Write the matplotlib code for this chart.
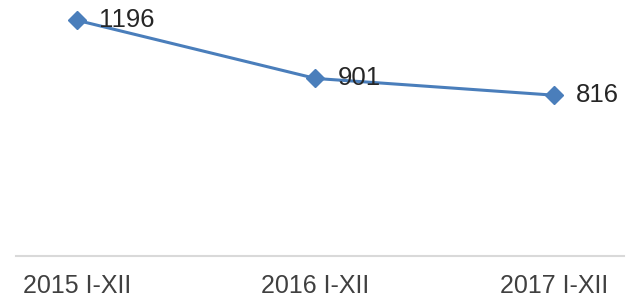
import matplotlib
matplotlib.use("Agg")
import matplotlib.pyplot as plt

categories = ["2015 I-XII", "2016 I-XII", "2017 I-XII"]
values = [1196, 901, 816]

plt.rcParams['font.family'] = ['Liberation Sans', 'DejaVu Sans']

fig = plt.figure(figsize=(6.38, 3.0), dpi=100)
ax = fig.add_axes([16/638, 44/300, (624-16)/638, 256/300])
x = list(range(len(categories)))
ax.plot(x, values, color="#4A7EBB", lw=2.2, marker="D", ms=9.5, mfc="#4A7EBB", mec="#4A7EBB")
for xi, v in zip(x, values):
    ax.annotate(str(v), (xi, v), xytext=(16, 0), textcoords="offset points",
                ha="left", va="center", fontsize=18.5, color="#262626")
ax.set_xlim(-0.256, 2.294)
ax.set_ylim(0, 1299)
ax.set_xticks(x)
ax.set_xticklabels(categories, fontsize=18, color="#404040")
ax.tick_params(axis="x", length=0, pad=13)
ax.set_yticks([])
for s in ["top", "left", "right"]:
    ax.spines[s].set_visible(False)
ax.spines["bottom"].set_color("#d9d9d9")
ax.spines["bottom"].set_linewidth(1.5)
fig.savefig("out.png", dpi=100)
